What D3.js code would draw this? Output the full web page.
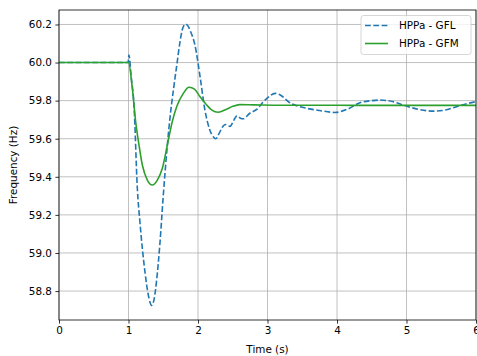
<!DOCTYPE html>
<html>
<head>
<meta charset="utf-8">
<script src="https://cdn.jsdelivr.net/npm/d3@7"></script>
<style>
  html, body { margin: 0; padding: 0; background: #fff; }
  svg { display: block; }
  text { font-family: "DejaVu Sans", sans-serif; }
</style>
</head>
<body>
<script>
// ---- Data ----
const xTicks = [0, 1, 2, 3, 4, 5, 6];
const yTicks = [58.8, 59.0, 59.2, 59.4, 59.6, 59.8, 60.0, 60.2];
const seriesNames = ["HPPa - GFL", "HPPa - GFM"];

const gflTime = [0, 0.5, 0.9, 0.97, 0.995, 1.005, 1.04, 1.079, 1.127, 1.165, 1.237, 1.29, 1.333, 1.37, 1.405, 1.45, 1.5, 1.559, 1.60, 1.655, 1.70, 1.741, 1.78, 1.82, 1.86, 1.885, 1.957, 2.03, 2.10, 2.17, 2.22, 2.255, 2.30, 2.35, 2.39, 2.46, 2.52, 2.56, 2.61, 2.65, 2.75, 2.85, 2.93, 3.0, 3.11, 3.2, 3.32, 3.45, 3.56, 3.75, 3.97, 4.15, 4.33, 4.5, 4.62, 4.8, 4.95, 5.2, 5.39, 5.55, 5.72, 5.88, 6.0];
const gflFreq = [60.0, 60.0, 60.0, 60.0, 60.0, 60.04, 59.92, 59.777, 59.34, 59.16, 58.90, 58.77, 58.725, 58.76, 58.858, 59.04, 59.30, 59.567, 59.72, 59.88, 60.0, 60.109, 60.18, 60.202, 60.19, 60.17, 60.09, 59.925, 59.75, 59.646, 59.61, 59.60, 59.625, 59.66, 59.675, 59.665, 59.70, 59.72, 59.708, 59.705, 59.735, 59.755, 59.79, 59.815, 59.838, 59.826, 59.789, 59.77, 59.76, 59.748, 59.738, 59.755, 59.789, 59.80, 59.803, 59.795, 59.777, 59.752, 59.745, 59.75, 59.768, 59.785, 59.795];

const gfmTime = [0, 0.5, 0.9, 0.97, 1.0, 1.055, 1.103, 1.151, 1.199, 1.271, 1.343, 1.415, 1.487, 1.559, 1.63, 1.693, 1.789, 1.87, 1.95, 2.03, 2.125, 2.2, 2.29, 2.41, 2.5, 2.6, 2.8, 3.2, 3.8, 4.5, 5.2, 6.0];
const gfmFreq = [60.0, 60.0, 60.0, 60.0, 60.0, 59.865, 59.69, 59.567, 59.462, 59.383, 59.357, 59.383, 59.445, 59.567, 59.69, 59.768, 59.838, 59.870, 59.86, 59.82, 59.777, 59.75, 59.739, 59.755, 59.77, 59.779, 59.778, 59.776, 59.776, 59.775, 59.775, 59.775];

// ---- Layout ----
const W = 477, H = 356;
const mLeft = 59, mRight = 476, mTop = 10, mBottom = 320;

const svg = d3.select("body").append("svg").attr("width", W).attr("height", H);

const x = d3.scaleLinear().domain([0, 6]).range([mLeft, mRight]);
const y = d3.scaleLinear().domain([58.648, 60.276]).range([mBottom, mTop]);

// grid
const grid = svg.append("g");
grid.selectAll("line.vx").data(xTicks).enter().append("line")
  .attr("x1", d => x(d)).attr("x2", d => x(d)).attr("y1", mTop).attr("y2", mBottom)
  .attr("stroke", "#b0b0b0").attr("stroke-width", 0.8);
grid.selectAll("line.hy").data(yTicks).enter().append("line")
  .attr("x1", mLeft).attr("x2", mRight).attr("y1", d => y(d)).attr("y2", d => y(d))
  .attr("stroke", "#b0b0b0").attr("stroke-width", 0.8);

// clip
svg.append("clipPath").attr("id", "clip").append("rect")
  .attr("x", mLeft).attr("y", mTop).attr("width", mRight - mLeft).attr("height", mBottom - mTop);

const line = d3.line().x(d => x(d[0])).y(d => y(d[1])).curve(d3.curveMonotoneX);

const gflData = gflTime.map((t, i) => [t, gflFreq[i]]);
const gfmData = gfmTime.map((t, i) => [t, gfmFreq[i]]);

const plot = svg.append("g").attr("clip-path", "url(#clip)");
plot.append("path").datum(gflData).attr("d", line)
  .attr("fill", "none").attr("stroke", "#1f77b4").attr("stroke-width", 1.6)
  .attr("stroke-dasharray", "5.8,2.5");
plot.append("path").datum(gfmData).attr("d", line)
  .attr("fill", "none").attr("stroke", "#2ca02c").attr("stroke-width", 1.6);

// axes
const xAxis = d3.axisBottom(x).tickValues(xTicks).tickFormat(d3.format("d")).tickSizeOuter(0).tickSize(3.6).tickPadding(3.5);
const yAxis = d3.axisLeft(y).tickValues(yTicks).tickFormat(d3.format(".1f")).tickSizeOuter(0).tickSize(3.6).tickPadding(3.5);

const gx = svg.append("g").attr("transform", `translate(0,${mBottom})`).call(xAxis);
const gy = svg.append("g").attr("transform", `translate(${mLeft},0)`).call(yAxis);
[gx, gy].forEach(g => {
  g.select(".domain").remove();
  g.selectAll("text").attr("font-size", "10.4px").attr("fill", "#000").attr("font-family", "DejaVu Sans, sans-serif");
  g.selectAll("line").attr("stroke", "#000").attr("stroke-width", 0.8);
});

// frame
svg.append("rect").attr("x", mLeft).attr("y", mTop).attr("width", mRight - mLeft).attr("height", mBottom - mTop)
  .attr("fill", "none").attr("stroke", "#000").attr("stroke-width", 0.8);

// labels
svg.append("text").attr("x", (mLeft + mRight) / 2).attr("y", 353).attr("text-anchor", "middle")
  .attr("font-size", "10.4px").text("Time (s)");
svg.append("text").attr("transform", `translate(17,${(mTop + mBottom) / 2}) rotate(-90)`)
  .attr("text-anchor", "middle").attr("font-size", "10.4px").text("Frequency (Hz)");

// legend
const lg = svg.append("g");
lg.append("rect").attr("x", 361).attr("y", 15.5).attr("width", 110).attr("height", 39).attr("rx", 2.5)
  .attr("fill", "#fff").attr("fill-opacity", 0.8).attr("stroke", "#cccccc").attr("stroke-width", 0.8);
const legendItems = [
  { name: seriesNames[0], color: "#1f77b4", dash: "5.8,2.5" },
  { name: seriesNames[1], color: "#2ca02c", dash: null }
];
legendItems.forEach((it, i) => {
  const yy = 25.5 + i * 18;
  lg.append("line").attr("x1", 365).attr("x2", 388).attr("y1", yy).attr("y2", yy)
    .attr("stroke", it.color).attr("stroke-width", 1.6).attr("stroke-dasharray", it.dash);
  lg.append("text").attr("x", 399).attr("y", yy + 3.7).attr("font-size", "10.4px").text(it.name);
});
</script>
</body>
</html>
